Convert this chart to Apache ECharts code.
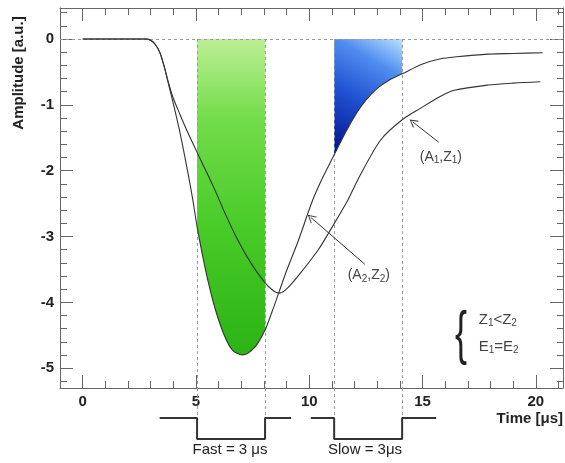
<!DOCTYPE html>
<html>
<head>
<meta charset="utf-8">
<script src="https://cdn.jsdelivr.net/npm/echarts@6/dist/echarts.min.js"></script>
<style>
  html, body { margin: 0; padding: 0; background: #fff; }
  #chart { width: 565px; height: 463px; }
</style>
</head>
<body>
<div id="chart"></div>
<script>
// pulse shapes: [time µs, amplitude]
const deepPulse = [
  [0, 0], [1, 0], [2, 0], [2.8, 0], [3.0, -0.02], [3.2, -0.08], [3.4, -0.2], [3.6, -0.42],
  [3.8, -0.7], [4.0, -0.98], [4.3, -1.43], [4.6, -1.95], [4.85, -2.42], [5.05, -2.85],
  [5.3, -3.3], [5.55, -3.7], [5.85, -4.1], [6.25, -4.5], [6.6, -4.72], [7.05, -4.8],
  [7.6, -4.68], [8.05, -4.42], [8.35, -4.15], [8.65, -3.86], [9.0, -3.52], [9.5, -3.08],
  [10.15, -2.45], [10.6, -2.1], [11.1, -1.76], [11.6, -1.42], [12.1, -1.12], [12.5, -0.93],
  [13.0, -0.75], [13.5, -0.63], [14.1, -0.53], [15.0, -0.38], [15.8, -0.3], [16.5, -0.27],
  [17.9, -0.23], [19.0, -0.22], [20.3, -0.21]
]
const shallowPulse = [
  [0, 0], [1, 0], [2, 0], [2.8, 0], [3.0, -0.02], [3.2, -0.08], [3.4, -0.2], [3.6, -0.42],
  [3.8, -0.68], [4.0, -0.9], [4.3, -1.15], [4.6, -1.39], [5.2, -1.83], [5.78, -2.25],
  [6.3, -2.66], [6.84, -3.05], [7.42, -3.4], [8.0, -3.68], [8.4, -3.82], [8.7, -3.86],
  [9.05, -3.78], [9.6, -3.56], [10.4, -3.2], [10.85, -2.95], [11.7, -2.45], [12.14, -2.14],
  [13.16, -1.53], [14.13, -1.22], [14.92, -1.05], [15.8, -0.87], [16.4, -0.78], [17.9, -0.7],
  [19.0, -0.67], [20.2, -0.65]
]

// integration windows and gate shapes
const fastWindow = [5.05, 8.05]
const slowWindow = [11.1, 14.1]
const fastGate = [[3.4, 1], [5.05, 1], [5.05, 0], [8.05, 0], [8.05, 1], [9.2, 1]]
const slowGate = [[10.07, 1], [11.1, 1], [11.1, 0], [14.1, 0], [14.1, 1], [15.6, 1]]

// axes
const X_MIN = -1, X_MAX = 21.2
const Y_MIN = -5.3, Y_MAX = 0.47
const xMajorTicks = [0, 5, 10, 15, 20]
const xMinorTicks = [-1, 0, 1, 2, 3, 4, 5, 6, 7, 8, 9, 10, 11, 12, 13, 14, 15, 16, 17, 18, 19, 20, 21]
const yMajorTicks = [-5, -4, -3, -2, -1, 0]
const yMinorTicks = [-5.2, -5, -4.8, -4.6, -4.4, -4.2, -4, -3.8, -3.6, -3.4, -3.2, -3, -2.8, -2.6,
  -2.4, -2.2, -2, -1.8, -1.6, -1.4, -1.2, -1, -0.8, -0.6, -0.4, -0.2, 0, 0.2, 0.4]

const FONT = '"Liberation Sans", Arial, sans-serif'
const AXIS_COLOR = '#666'
const CURVE_COLOR = '#333'

const chart = echarts.init(document.getElementById('chart'))

function inWindow(data, w) {
  return data.filter(p => p[0] >= w[0] && p[0] <= w[1])
}

// one axis = one set of ticks (major/minor need different lengths)
function xAx(position, ticks, len, withLine, withLabels) {
  return {
    gridIndex: 0, type: 'value', position, min: X_MIN, max: X_MAX,
    axisLine: { show: withLine, onZero: false, lineStyle: { color: AXIS_COLOR } },
    axisTick: { inside: true, length: len, customValues: ticks, lineStyle: { color: AXIS_COLOR } },
    axisLabel: withLabels
      ? { customValues: xMajorTicks, margin: 6, fontSize: 15, fontWeight: 'bold', color: '#222', fontFamily: FONT }
      : { show: false },
    splitLine: { show: false }
  }
}
function yAx(position, ticks, len, withLine, withLabels) {
  return {
    gridIndex: 0, type: 'value', position, min: Y_MIN, max: Y_MAX,
    axisLine: { show: withLine, onZero: false, lineStyle: { color: AXIS_COLOR } },
    axisTick: { inside: true, length: len, customValues: ticks, lineStyle: { color: AXIS_COLOR } },
    axisLabel: withLabels
      ? { customValues: yMajorTicks, margin: 6, fontSize: 15, fontWeight: 'bold', color: '#222', fontFamily: FONT }
      : { show: false },
    splitLine: { show: false }
  }
}

const dashed = { color: '#9a9a9a', type: [3, 3], width: 1 }
const sub = { fontSize: 10, padding: [7, 0, 0, 0], color: '#444', fontFamily: FONT }
const chevron = 'path://M5,0 L10,10 L8.8,10 L5,2.4 L1.2,10 L0,10 Z'

const option = {
  animation: false,
  backgroundColor: '#fff',
  grid: [
    { left: 60, right: 2, top: 8, bottom: 75, outerBoundsMode: 'none' },
    { left: 60, right: 2, top: 388, height: 51, outerBoundsMode: 'none' }
  ],
  xAxis: [
    xAx('bottom', xMinorTicks, 7, true, true),
    xAx('bottom', xMajorTicks, 13, false, false),
    xAx('top', xMinorTicks, 7, true, false),
    xAx('top', xMajorTicks, 13, false, false),
    { gridIndex: 1, type: 'value', min: X_MIN, max: X_MAX, show: false }
  ],
  yAxis: [
    yAx('left', yMinorTicks, 7, true, true),
    yAx('left', yMajorTicks, 13, false, false),
    yAx('right', yMinorTicks, 6, true, false),
    yAx('right', yMajorTicks, 13, false, false),
    { gridIndex: 1, type: 'value', min: 0, max: 2.43, show: false }
  ],
  series: [
    // dotted guides: zero level + window edges
    {
      type: 'line', data: [], z: 1, silent: true,
      markLine: {
        silent: true, symbol: ['none', 'none'], label: { show: false }, lineStyle: dashed,
        data: [
          [{ coord: [X_MIN, 0] }, { coord: [X_MAX, 0] }],
          [{ coord: [fastWindow[0], 0] }, { coord: [fastWindow[0], Y_MIN] }],
          [{ coord: [fastWindow[1], 0] }, { coord: [fastWindow[1], Y_MIN] }],
          [{ coord: [slowWindow[0], 0] }, { coord: [slowWindow[0], Y_MIN] }],
          [{ coord: [slowWindow[1], 0] }, { coord: [slowWindow[1], Y_MIN] }]
        ]
      }
    },
    // fast window area
    {
      type: 'line', data: inWindow(deepPulse, fastWindow), smooth: 0.3, symbol: 'none', z: 2,
      lineStyle: { width: 0 },
      areaStyle: {
        opacity: 1,
        color: {
          type: 'linear', x: 0, y: 0, x2: 0, y2: 1,
          colorStops: [
            { offset: 0, color: '#bdef95' },
            { offset: 0.25, color: '#74dc4b' },
            { offset: 0.6, color: '#47cb27' },
            { offset: 1, color: '#2bb315' }
          ]
        }
      }
    },
    // slow window area
    {
      type: 'line', data: inWindow(deepPulse, slowWindow), smooth: 0.3, symbol: 'none', z: 2,
      lineStyle: { width: 0 },
      areaStyle: {
        opacity: 1,
        color: {
          type: 'linear', x: 1, y: 0, x2: 0, y2: 1,
          colorStops: [
            { offset: 0, color: '#b8e3fa' },
            { offset: 0.25, color: '#4f8cf0' },
            { offset: 0.55, color: '#2152d2' },
            { offset: 1, color: '#00128f' }
          ]
        }
      }
    },
    // pulses
    {
      type: 'line', data: deepPulse, smooth: 0.3, symbol: 'none', z: 5,
      lineStyle: { color: CURVE_COLOR, width: 1.1 }
    },
    {
      type: 'line', data: shallowPulse, smooth: 0.3, symbol: 'none', z: 5,
      lineStyle: { color: CURVE_COLOR, width: 1.1 }
    },
    // annotations
    {
      type: 'line', data: [], z: 6, silent: true,
      markLine: {
        silent: true, symbol: ['none', chevron], symbolSize: [9, 8], label: { show: false },
        lineStyle: { color: '#333', width: 1, type: 'solid' },
        data: [
          [{ coord: [15.72, -1.57] }, { coord: [14.57, -1.26] }],
          [{ coord: [12.45, -3.42] }, { coord: [10.07, -2.71] }]
        ]
      },
      markPoint: {
        silent: true, symbol: 'circle', symbolSize: 0,
        label: {
          show: true, position: 'inside', color: '#444', fontSize: 14, fontFamily: FONT,
          rich: { s: sub }
        },
        data: [
          { coord: [15.81, -1.79], label: { formatter: '(A{s|1},Z{s|1})' } },
          { coord: [12.63, -3.59], label: { formatter: '(A{s|2},Z{s|2})' } },
          { coord: [17.48, -4.26], label: { formatter: 'Z{s|1}<Z{s|2}', align: 'left', fontSize: 15 } },
          { coord: [17.48, -4.68], label: { formatter: 'E{s|1}=E{s|2}', align: 'left', fontSize: 15 } }
        ]
      }
    },
    // gate shapes under the axis
    {
      type: 'line', xAxisIndex: 4, yAxisIndex: 4, data: fastGate, symbol: 'none',
      lineStyle: { color: '#333', width: 2 },
      markLine: {
        silent: true, symbol: ['none', 'none'], label: { show: false }, lineStyle: dashed,
        data: [
          [{ coord: [fastWindow[0], 2.43] }, { coord: [fastWindow[0], 1] }],
          [{ coord: [fastWindow[1], 2.43] }, { coord: [fastWindow[1], 1] }],
          [{ coord: [slowWindow[0], 2.43] }, { coord: [slowWindow[0], 1] }],
          [{ coord: [slowWindow[1], 2.43] }, { coord: [slowWindow[1], 1] }]
        ]
      }
    },
    {
      type: 'line', xAxisIndex: 4, yAxisIndex: 4, data: slowGate, symbol: 'none',
      lineStyle: { color: '#333', width: 2 }
    }
  ],
  graphic: [
    {
      type: 'text', x: 19, y: 73, rotation: Math.PI / 2,
      style: { text: 'Amplitude [a.u.]', font: 'bold 15px ' + FONT, fill: '#222', align: 'center', verticalAlign: 'middle' }
    },
    {
      type: 'text', x: 563, y: 419,
      style: { text: 'Time [μs]', font: 'bold 15px ' + FONT, fill: '#222', align: 'right', verticalAlign: 'middle' }
    },
    {
      type: 'text', x: 230, y: 450,
      style: { text: 'Fast = 3 μs', font: '15px ' + FONT, fill: '#222', align: 'center', verticalAlign: 'middle' }
    },
    {
      type: 'text', x: 365, y: 450,
      style: { text: 'Slow = 3μs', font: '15px ' + FONT, fill: '#222', align: 'center', verticalAlign: 'middle' }
    },
    {
      type: 'text', x: 461, y: 336, scaleX: 0.6,
      style: { text: '{', font: '60px ' + FONT, fill: '#222', align: 'center', verticalAlign: 'middle' }
    }
  ]
}

chart.setOption(option)
</script>
</body>
</html>
